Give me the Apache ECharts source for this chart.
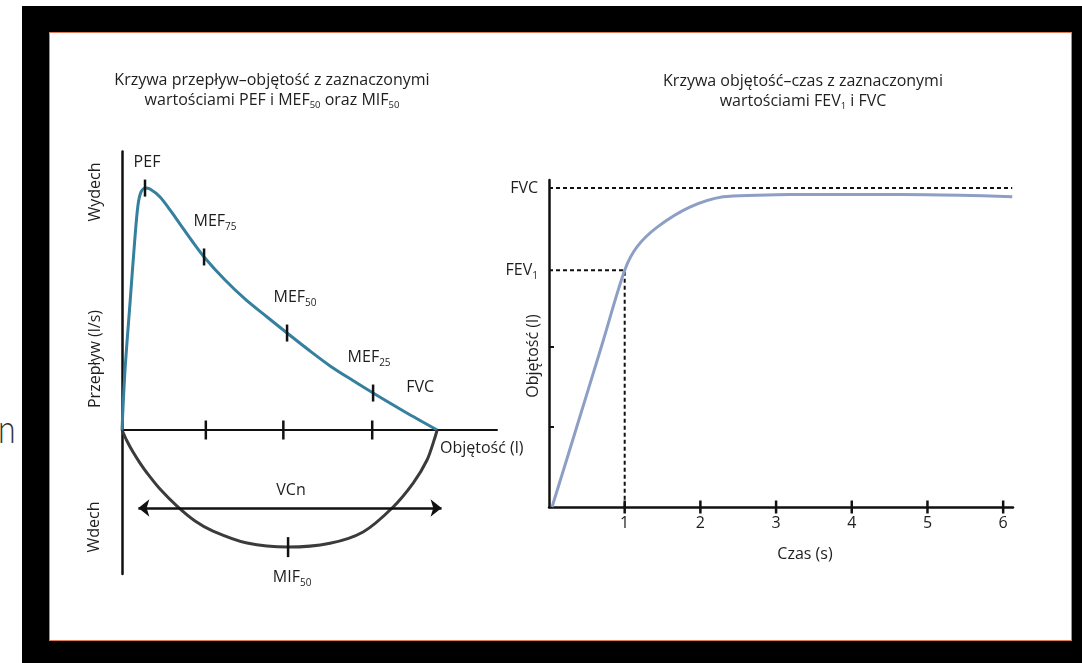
<!DOCTYPE html>
<html>
<head>
<meta charset="utf-8">
<script src="https://cdn.jsdelivr.net/npm/echarts@6/dist/echarts.min.js"></script>
<style>
html,body{margin:0;padding:0;background:#fff;width:1082px;height:663px;overflow:hidden;}
#frame{position:absolute;left:22px;top:6px;width:1060px;height:657px;background:#000;}
#panel{position:absolute;left:49px;top:32px;width:1021px;height:607px;background:#fff;border:1px solid #de7a55;}
#cut{position:absolute;left:-2px;top:404px;font-family:Lato,sans-serif;font-weight:300;font-size:40px;color:#333;transform:scaleX(0.8);transform-origin:0 0;}
#main{position:absolute;left:0;top:0;width:1082px;height:663px;}
</style>
</head>
<body>
<div id="cut">n</div>
<div id="frame"></div>
<div id="panel"></div>
<div id="main"></div>
<script>
//krzywa przeplyw-objetosc: objetosc (l), przeplyw (l/s)
var wydechX = [0, 0.048, 0.127, 0.206, 0.254, 0.302, 0.365, 0.444, 0.603, 0.762, 0.921, 1.111, 1.302, 1.635, 1.968, 2.302, 2.619, 2.984, 3.302, 3.651, 3.984, 4.492, 5.0];
var wydechY = [0, 2.5, 5.29, 8.04, 9.375, 9.92, 10.08, 10.04, 9.71, 9.17, 8.58, 7.875, 7.21, 6.25, 5.42, 4.71, 4.04, 3.29, 2.67, 2.08, 1.54, 0.75, 0];
var wdechX = [0, 0.079, 0.175, 0.286, 0.397, 0.603, 0.873, 1.159, 1.444, 1.984, 2.635, 3.30, 3.825, 4.286, 4.62, 4.84, 4.968, 5.0];
var wdechY = [0, -0.46, -0.92, -1.38, -1.79, -2.46, -3.17, -3.79, -4.21, -4.71, -4.88, -4.72, -4.25, -3.25, -2.21, -1.25, -0.29, 0];
var punktyNazwy = ['PEF', 'MEF|75', 'MEF|50', 'MEF|25'];
var punktyX = [0.365, 1.302, 2.619, 3.984];
var punktyY = [10.08, 7.21, 4.04, 1.54];
var podzialkaX = [1.33, 2.56, 3.97];
var mif50 = [2.635, -4.88];
var vcn = [0.26, 5.07, -3.25];
var fvcObj = 5.0;

//krzywa objetosc-czas: czas (s), objetosc (l)
var czasX = [0.04, 0.35, 0.70, 1.0, 1.16, 1.43, 1.86, 2.30, 2.75, 3.18, 4.64, 5.43, 6.12];
var objetoscY = [0, 0.95, 2.03, 2.96, 3.25, 3.5, 3.75, 3.88, 3.9, 3.91, 3.91, 3.9, 3.88];
var fev1 = 2.96;
var fvc = 3.99;
var czasTicks = [1, 2, 3, 4, 5, 6];
var objTicks = [1, 2];

var FONT = '"Open Sans", sans-serif';
var KOLOR = '#1e1e1e';
var sub = {
    n: {fontSize: 16, fontFamily: FONT, color: KOLOR, lineHeight: 22},
    s: {fontSize: 10, fontFamily: FONT, color: KOLOR, lineHeight: 11, verticalAlign: 'bottom'}
};
var subTytul = {
    n: {fontSize: 16, fontFamily: FONT, color: KOLOR, lineHeight: 20},
    s: {fontSize: 9.5, fontFamily: FONT, color: KOLOR, lineHeight: 10, verticalAlign: 'bottom'}
};
function zip(a, b){
    var arr = [];
    for(var i = 0;i<a.length;i++){
        arr.push([a[i], b[i]]);
    }
    return arr;
}
function nazwa(t){
    var p = t.split('|');
    if(p.length == 1) return '{n|' + p[0] + '}';
    return '{n|' + p[0] + '}{s|' + p[1] + '}';
}
var etykietyOff = [[2, 0], [11, 10], [8, 10], [-4, 10]];

var myChart = echarts.init(document.getElementById('main'), null, {renderer: 'canvas'});
var option = {
    backgroundColor: 'transparent',
    animation: false,
    grid: [
        {left: 122, top: 151.6, width: 375, height: 422.4},
        {left: 549, top: 180, width: 464, height: 327}
    ],
    xAxis: [{
        gridIndex: 0, type: 'value', min: 0, max: 5.95,
        axisLine: {show: true, onZero: true, lineStyle: {color: '#111', width: 2}},
        axisTick: {show: false}, axisLabel: {show: false}, splitLine: {show: false}
    }, {
        gridIndex: 1, type: 'value', min: 0, max: 6.13, interval: 1,
        axisLine: {show: true, lineStyle: {color: '#111', width: 2.5}},
        axisTick: {show: false}, splitLine: {show: false},
        axisLabel: {
            margin: 8, fontSize: 16, fontFamily: FONT, color: KOLOR,
            formatter: function(v){ return czasTicks.indexOf(v) >= 0 ? String(v) : ''; }
        }
    }],
    yAxis: [{
        gridIndex: 0, type: 'value', min: -6, max: 11.6,
        axisLine: {show: true, lineStyle: {color: '#111', width: 2.5}},
        axisTick: {show: false}, axisLabel: {show: false}, splitLine: {show: false}
    }, {
        gridIndex: 1, type: 'value', min: 0, max: 4.09,
        axisLine: {show: true, lineStyle: {color: '#111', width: 2.5}},
        axisTick: {show: true, inside: true, length: 5, customValues: objTicks, lineStyle: {color: '#111', width: 2}},
        splitLine: {show: false},
        axisLabel: {
            margin: 11, customValues: [fev1, fvc], rich: sub,
            formatter: function(v){ return Math.abs(v - fvc) < 1e-6 ? '{n|FVC}' : '{n|FEV}{s|1}'; }
        }
    }],
    series: [{
        //wydech
        type: 'line', xAxisIndex: 0, yAxisIndex: 0,
        data: zip(wydechX, wydechY),
        smooth: 0.3, showSymbol: false,
        lineStyle: {color: '#357f9f', width: 3}, z: 3
    }, {
        //wdech
        type: 'line', xAxisIndex: 0, yAxisIndex: 0,
        data: zip(wdechX, wdechY),
        smooth: 0.3, showSymbol: false,
        lineStyle: {color: '#3b3b3b', width: 3}, z: 3,
        markLine: {
            silent: true, symbol: ['arrow', 'arrow'], symbolSize: [13, 11],
            lineStyle: {color: '#111', width: 2.5, type: 'solid'},
            label: {show: false},
            data: [[{coord: [vcn[0], vcn[2]]}, {coord: [vcn[1], vcn[2]]}]]
        }
    }, {
        //PEF, MEF
        type: 'scatter', xAxisIndex: 0, yAxisIndex: 0,
        symbol: 'rect', symbolSize: [2.5, 17],
        itemStyle: {color: '#111', opacity: 1}, z: 5,
        data: punktyX.map(function(x, i){
            return {
                value: [x, punktyY[i]],
                label: {
                    show: true, position: 'top', distance: 6 + etykietyOff[i][1],
                    offset: [etykietyOff[i][0], 0],
                    formatter: nazwa(punktyNazwy[i]), rich: sub
                }
            };
        })
    }, {
        //podzialka na osi objetosci
        type: 'scatter', xAxisIndex: 0, yAxisIndex: 0,
        symbol: 'rect', symbolSize: [2.5, 19],
        itemStyle: {color: '#111', opacity: 1}, z: 5,
        data: podzialkaX.map(function(x){ return [x, 0]; })
    }, {
        //MIF50
        type: 'scatter', xAxisIndex: 0, yAxisIndex: 0,
        symbol: 'rect', symbolSize: [2.5, 20],
        itemStyle: {color: '#111', opacity: 1}, z: 5,
        data: [{
            value: mif50,
            label: {show: true, position: 'bottom', distance: 9, offset: [4, 0],
                formatter: '{n|MIF}{s|50}', rich: sub}
        }]
    }, {
        //FVC
        type: 'scatter', xAxisIndex: 0, yAxisIndex: 0,
        symbolSize: 0, itemStyle: {opacity: 1},
        data: [{
            value: [fvcObj, 0],
            label: {show: true, position: 'top', distance: 32, offset: [-17, 0],
                formatter: '{n|FVC}', rich: sub}
        }]
    }, {
        //objetosc-czas
        type: 'line', xAxisIndex: 1, yAxisIndex: 1,
        data: zip(czasX, objetoscY),
        smooth: 0.3, showSymbol: false,
        lineStyle: {color: '#8d9fc5', width: 3}, z: 3
    }, {
        //FEV1 linie przerywane
        type: 'line', xAxisIndex: 1, yAxisIndex: 1,
        data: [[0, fev1], [1, fev1], [1, 0]],
        showSymbol: false, silent: true,
        lineStyle: {color: '#111', width: 2, type: [4, 3]}, z: 2
    }, {
        //FVC linia przerywana
        type: 'line', xAxisIndex: 1, yAxisIndex: 1,
        data: [[0, fvc], [6.12, fvc]],
        showSymbol: false, silent: true,
        lineStyle: {color: '#111', width: 2, type: [4, 3]}, z: 2
    }, {
        //podzialka na osi czasu
        type: 'scatter', xAxisIndex: 1, yAxisIndex: 1,
        symbol: 'rect', symbolSize: [2.5, 13],
        itemStyle: {color: '#111', opacity: 1}, z: 5,
        data: czasTicks.map(function(t){ return [t, 0]; })
    }],
    graphic: [
        {type: 'text', x: 272, y: 90, style: {
            text: 'Krzywa przepływ–objętość z zaznaczonymi\n{n|wartościami PEF i MEF}{s|50}{n| oraz MIF}{s|50}',
            rich: subTytul, align: 'center', verticalAlign: 'middle',
            fontSize: 16, fontFamily: FONT, fill: KOLOR, lineHeight: 20}},
        {type: 'text', x: 803, y: 91, style: {
            text: 'Krzywa objętość–czas z zaznaczonymi\n{n|wartościami FEV}{s|1}{n| i FVC}',
            rich: subTytul, align: 'center', verticalAlign: 'middle',
            fontSize: 16, fontFamily: FONT, fill: KOLOR, lineHeight: 20}},
        {type: 'text', x: 95, y: 192, rotation: Math.PI / 2, style: {
            text: 'Wydech', align: 'center', verticalAlign: 'middle',
            fontSize: 16, fontFamily: FONT, fill: KOLOR}},
        {type: 'text', x: 95, y: 359, rotation: Math.PI / 2, style: {
            text: 'Przepływ (l/s)', align: 'center', verticalAlign: 'middle',
            fontSize: 16, fontFamily: FONT, fill: KOLOR}},
        {type: 'text', x: 94, y: 527, rotation: Math.PI / 2, style: {
            text: 'Wdech', align: 'center', verticalAlign: 'middle',
            fontSize: 16, fontFamily: FONT, fill: KOLOR}},
        {type: 'text', x: 440, y: 448, style: {
            text: 'Objętość (l)', align: 'left', verticalAlign: 'middle',
            fontSize: 16, fontFamily: FONT, fill: KOLOR}},
        {type: 'text', x: 291, y: 490, style: {
            text: 'VCn', align: 'center', verticalAlign: 'middle',
            fontSize: 16, fontFamily: FONT, fill: KOLOR}},
        {type: 'text', x: 533, y: 356, rotation: Math.PI / 2, style: {
            text: 'Objętość (l)', align: 'center', verticalAlign: 'middle',
            fontSize: 16, fontFamily: FONT, fill: KOLOR}},
        {type: 'text', x: 805, y: 554, style: {
            text: 'Czas (s)', align: 'center', verticalAlign: 'middle',
            fontSize: 16, fontFamily: FONT, fill: KOLOR}}
    ]
};
myChart.setOption(option);
</script>
</body>
</html>
